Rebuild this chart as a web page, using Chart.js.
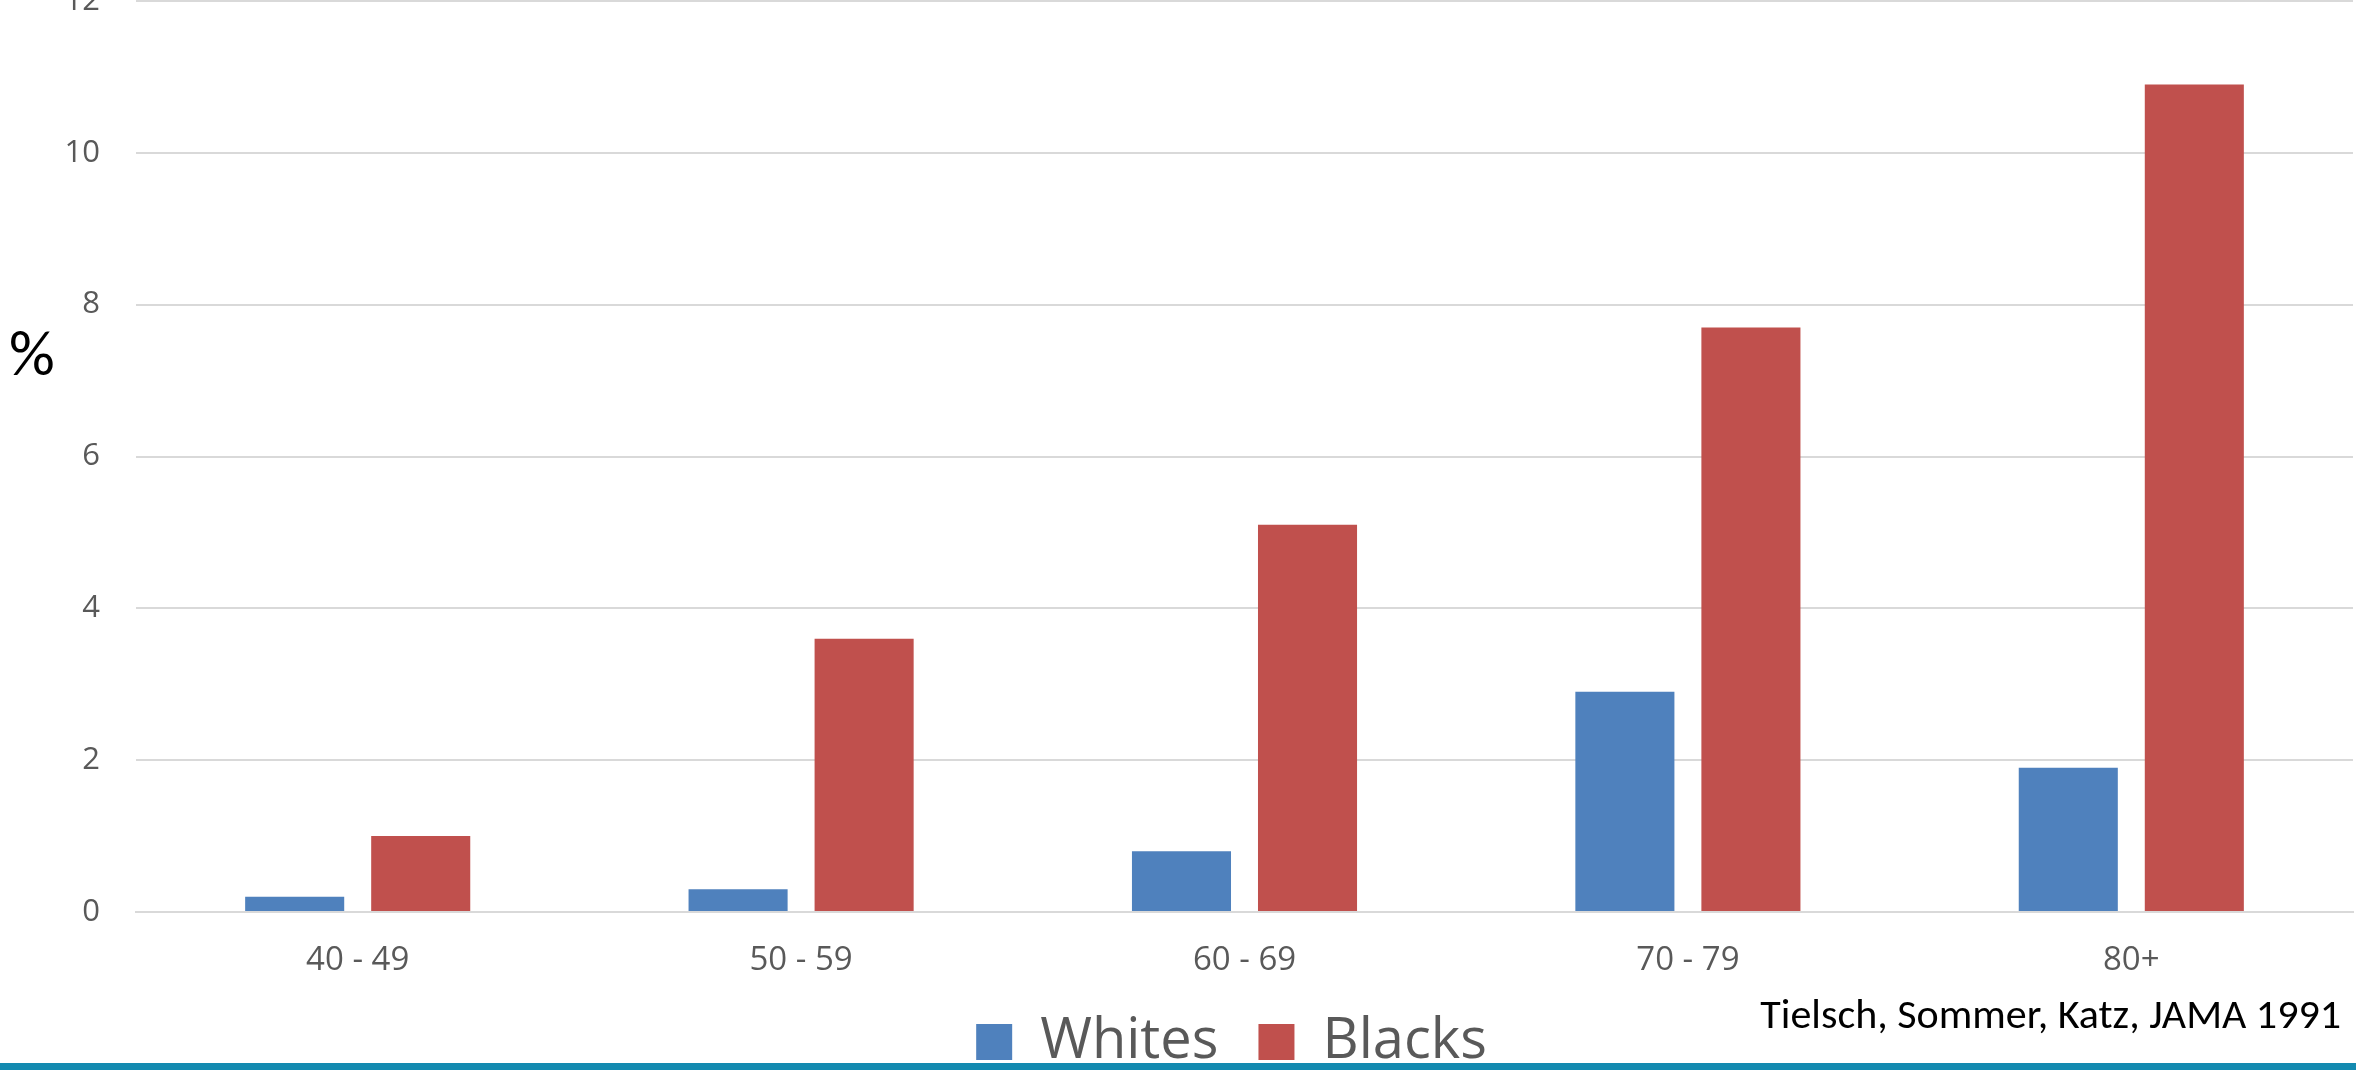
<!DOCTYPE html>
<html>
<head>
<meta charset="utf-8">
<script src="https://cdn.jsdelivr.net/npm/chart.js@4.4.1/dist/chart.umd.min.js"></script>
<style>
    html, body { margin: 0; padding: 0; background: #fff; }
    #glaucomaChart { display: block; }
</style>
</head>
<body>
<canvas id="glaucomaChart" width="2356" height="1070"></canvas>
<script>
// Prevalence (%) by age group and race
const ageGroups = ['40 - 49', '50 - 59', '60 - 69', '70 - 79', '80+'];
const whitesPct = [0.2, 0.3, 0.8, 2.9, 1.9];
const blacksPct = [1.0, 3.6, 5.1, 7.7, 10.9];
const yMin = 0;
const yMax = 12;
const yStep = 2;

const sourceNote = 'Tielsch, Sommer, Katz, JAMA 1991';

// "%" label, source note and the teal rule at the bottom
const annotations = {
    id: 'annotations',
    afterLayout: function (chart) {
        // legend sits a little left of the plot centre
        chart.legend.left -= 13;
        chart.legend.right -= 13;
    },
    afterDraw: function (chart) {
        const ctx = chart.ctx;
        ctx.save();
        ctx.fillStyle = '#000';
        ctx.textBaseline = 'middle';
        ctx.textAlign = 'left';
        ctx.font = '64px Carlito, Lato, sans-serif';
        ctx.fillText('%', 9, 359);

        ctx.textAlign = 'right';
        ctx.textBaseline = 'alphabetic';
        ctx.font = '42px Carlito, Lato, sans-serif';
        ctx.fillText(sourceNote, 2341, 1028);

        ctx.fillStyle = '#138ab0';
        ctx.fillRect(0, 1063, chart.width, 7);
        ctx.restore();
    }
};

document.addEventListener('DOMContentLoaded', function () {
    const ctx = document.getElementById('glaucomaChart').getContext('2d');
    new Chart(ctx, {
        type: 'bar',
        data: {
            labels: ageGroups,
            datasets: [
                {
                    label: 'Whites',
                    data: whitesPct,
                    backgroundColor: '#4f81bd'
                },
                {
                    label: 'Blacks',
                    data: blacksPct,
                    backgroundColor: '#c0504d'
                }
            ]
        },
        options: {
            responsive: false,
            animation: false,
            categoryPercentage: 0.5685,
            barPercentage: 0.786,
            layout: {
                // negative bottom lets the legend text run under the rule
                padding: { top: 1, right: 3, bottom: -10, left: 0 }
            },
            plugins: {
                legend: {
                    position: 'bottom',
                    fullSize: false,
                    labels: {
                        boxWidth: 36,
                        boxHeight: 36,
                        padding: 40,
                        color: '#595959',
                        font: { family: '"Open Sans", sans-serif', size: 56 }
                    }
                },
                tooltip: { enabled: false }
            },
            scales: {
                x: {
                    grid: { display: false, drawTicks: false },
                    border: { color: '#d9d9d9', width: 2 },
                    ticks: {
                        padding: 29,
                        color: '#595959',
                        font: { family: '"Open Sans", sans-serif', size: 33 }
                    },
                    afterFit: function (scale) {
                        scale.height = 62;
                    }
                },
                y: {
                    min: yMin,
                    max: yMax,
                    grid: { color: '#d9d9d9', lineWidth: 2, drawTicks: false },
                    border: { display: false },
                    ticks: {
                        stepSize: yStep,
                        padding: 36,
                        color: '#595959',
                        font: { family: '"Open Sans", sans-serif', size: 31 }
                    },
                    afterFit: function (scale) {
                        scale.width = 136;
                        scale.paddingTop = 0;
                        scale.paddingBottom = 0;
                    }
                }
            }
        },
        plugins: [annotations]
    });
});
</script>
</body>
</html>
